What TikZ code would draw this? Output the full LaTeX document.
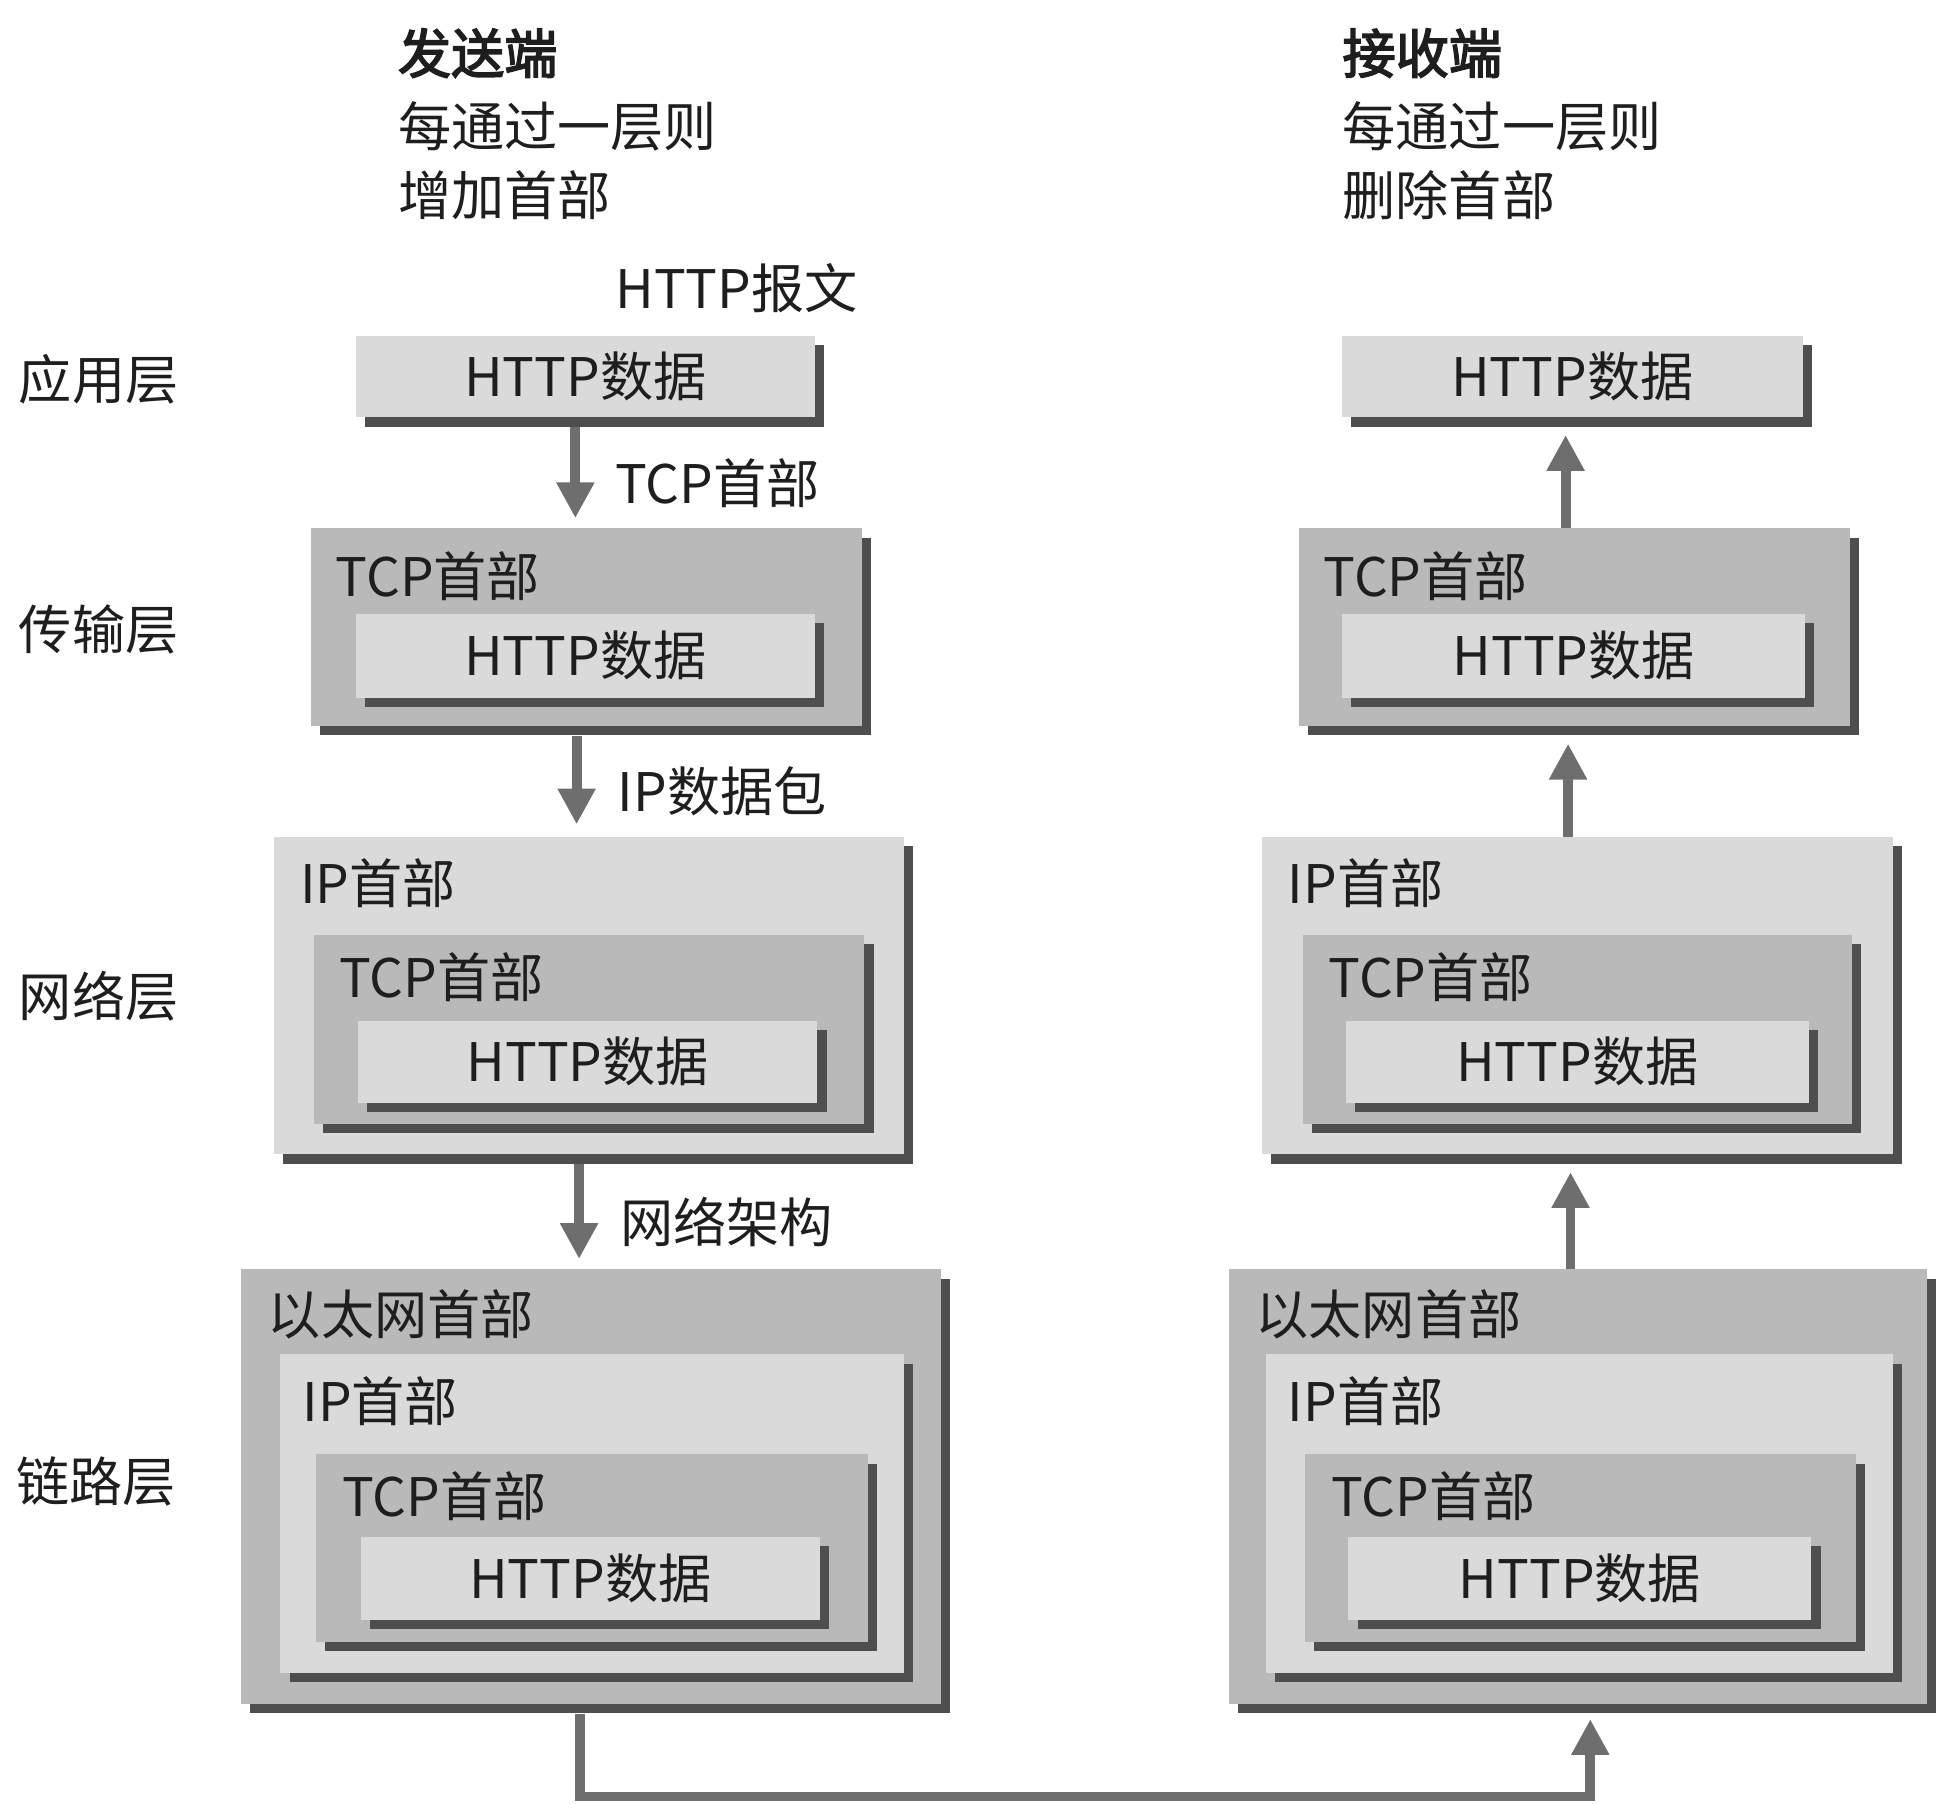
\documentclass[tikz,border=0pt]{standalone}
\usepackage{fontspec}
\setmainfont{Noto Sans CJK SC}
\newfontfamily\hdbold{Noto Sans CJK SC}[FakeBold=3]
\usetikzlibrary{arrows.meta,shadows,fit,calc}
\definecolor{lite}{HTML}{DADADA}
\definecolor{dark}{HTML}{B9B9B9}
\definecolor{shc}{HTML}{4E4E4E}
\definecolor{arrc}{HTML}{6E6E6E}
\definecolor{txtc}{HTML}{1E1E1E}
\begin{document}
\begin{tikzpicture}[x=0.02cm,y=-0.02cm,
  every node/.style={text=txtc, font=\fontsize{24.5pt}{28pt}\selectfont},
  pkt/.style={inner sep=0pt, draw=none,
     drop shadow={shadow xshift=0.15cm, shadow yshift=-0.15cm, opacity=1, fill=shc}},
  litebox/.style={pkt, fill=lite},
  darkbox/.style={pkt, fill=dark},
  lbl/.style={inner sep=0pt, anchor=west},
  ctxt/.style={inner sep=0pt},
  arr/.style={draw=arrc, line width=0.16cm, -{Triangle[width=0.58cm,length=0.58cm]}},
  wire/.style={draw=arrc, line width=0.16cm}
]
\useasboundingbox (0,0) rectangle (1568,1461);

% headers
\node[lbl] (s1) at (322,43) {\hdbold 发送端};
\node[lbl] (s2) at (322,102) {每通过一层则};
\node[lbl] (s3) at (322,158) {增加首部};
\node[lbl] (r1) at (1087,43) {\hdbold 接收端};
\node[lbl] (r2) at (1087,102) {每通过一层则};
\node[lbl] (r3) at (1087,158) {删除首部};
\node[lbl] (msg) at (498,233) {HTTP报文};

% layer names
\node[lbl] (la) at (15,307) {应用层};
\node[lbl] (lt) at (15,510) {传输层};
\node[lbl] (ln) at (15,807) {网络层};
\node[lbl] (ll) at (13,1200) {链路层};

% ---------- left column ----------
\node[litebox, fit={(288,272) (660,338)}] (Lapp) {};
\node[ctxt] (Lapptx) at (Lapp.center) {HTTP数据};

\node[darkbox, fit={(252,428) (698,588)}] (Ltp) {};
\node[lbl] (Ltptx) at ($(Ltp.north west)+(20,39)$) {TCP首部};
\node[litebox, fit={(288,497) (660,565)}] (Ltph) {};
\node[ctxt] (Ltphtx) at (Ltph.center) {HTTP数据};

\node[litebox, fit={(222,678) (732,935)}] (Lnw) {};
\node[lbl] (Lnwtx) at ($(Lnw.north west)+(21,38)$) {IP首部};
\node[darkbox, fit={(254,757) (700,910)}] (Lnwt) {};
\node[lbl] (Lnwttx) at ($(Lnwt.north west)+(21,35)$) {TCP首部};
\node[litebox, fit={(290,827) (662,893)}] (Lnwh) {};
\node[ctxt] (Lnwhtx) at (Lnwh.center) {HTTP数据};

\node[darkbox, fit={(195,1028) (762,1380)}] (Llk) {};
\node[lbl] (Llktx) at ($(Llk.north west)+(22,37)$) {以太网首部};
\node[litebox, fit={(227,1097) (732,1355)}] (Llki) {};
\node[lbl] (Llkitx) at ($(Llki.north west)+(18,38)$) {IP首部};
\node[darkbox, fit={(256,1178) (703,1330)}] (Llkt) {};
\node[lbl] (Llkttx) at ($(Llkt.north west)+(21,34)$) {TCP首部};
\node[litebox, fit={(292,1245) (664,1312)}] (Llkh) {};
\node[ctxt] (Llkhtx) at (Llkh.center) {HTTP数据};

% ---------- right column ----------
\node[litebox, fit={(1087,272) (1460,338)}] (Rapp) {};
\node[ctxt] (Rapptx) at (Rapp.center) {HTTP数据};

\node[darkbox, fit={(1052,428) (1498,588)}] (Rtp) {};
\node[lbl] (Rtptx) at ($(Rtp.north west)+(20,39)$) {TCP首部};
\node[litebox, fit={(1087,497) (1462,565)}] (Rtph) {};
\node[ctxt] (Rtphtx) at (Rtph.center) {HTTP数据};

\node[litebox, fit={(1022,678) (1533,935)}] (Rnw) {};
\node[lbl] (Rnwtx) at ($(Rnw.north west)+(21,38)$) {IP首部};
\node[darkbox, fit={(1055,757) (1500,910)}] (Rnwt) {};
\node[lbl] (Rnwttx) at ($(Rnwt.north west)+(21,35)$) {TCP首部};
\node[litebox, fit={(1090,827) (1465,893)}] (Rnwh) {};
\node[ctxt] (Rnwhtx) at (Rnwh.center) {HTTP数据};

\node[darkbox, fit={(995,1028) (1561,1380)}] (Rlk) {};
\node[lbl] (Rlktx) at ($(Rlk.north west)+(22,37)$) {以太网首部};
\node[litebox, fit={(1025,1097) (1533,1355)}] (Rlki) {};
\node[lbl] (Rlkitx) at ($(Rlki.north west)+(18,38)$) {IP首部};
\node[darkbox, fit={(1057,1178) (1503,1330)}] (Rlkt) {};
\node[lbl] (Rlkttx) at ($(Rlkt.north west)+(21,34)$) {TCP首部};
\node[litebox, fit={(1092,1245) (1467,1312)}] (Rlkh) {};
\node[ctxt] (Rlkhtx) at (Rlkh.center) {HTTP数据};

% ---------- arrows ----------
\coordinate (xa1) at (466,0);
\coordinate (xa2) at (467,0);
\coordinate (xa3) at (469,0);
\coordinate (xb1) at (1268,0);
\coordinate (xb2) at (1270,0);
\coordinate (xb3) at (1272,0);
\coordinate (xc) at (470,0);
\coordinate (xd) at (1288,0);
\coordinate (bot) at (470,1455);

\draw[arr] ([yshift=-0.15cm]Lapp.south -| xa1) -- ([yshift=0.16cm]Ltp.north -| xa1);
\node[lbl] (a1) at (498,391) {TCP首部};
\draw[arr] ([yshift=-0.15cm]Ltp.south -| xa2) -- ([yshift=0.2cm]Lnw.north -| xa2);
\node[lbl] (a2) at (500,641) {IP数据包};
\draw[arr] ([yshift=-0.15cm]Lnw.south -| xa3) -- ([yshift=0.16cm]Llk.north -| xa3);
\node[lbl] (a3) at (502,990) {网络架构};

\draw[arr] (Rtp.north -| xb1) -- ([yshift=-0.28cm]Rapp.south -| xb1);
\draw[arr] (Rnw.north -| xb2) -- ([yshift=-0.28cm]Rtp.south -| xb2);
\draw[arr] (Rlk.north -| xb3) -- ([yshift=-0.28cm]Rnw.south -| xb3);

\draw[arr] ([yshift=-0.15cm]Llk.south -| xc) |- (bot -| xd) -- ([yshift=-0.24cm]Rlk.south -| xd);
\end{tikzpicture}
\end{document}
